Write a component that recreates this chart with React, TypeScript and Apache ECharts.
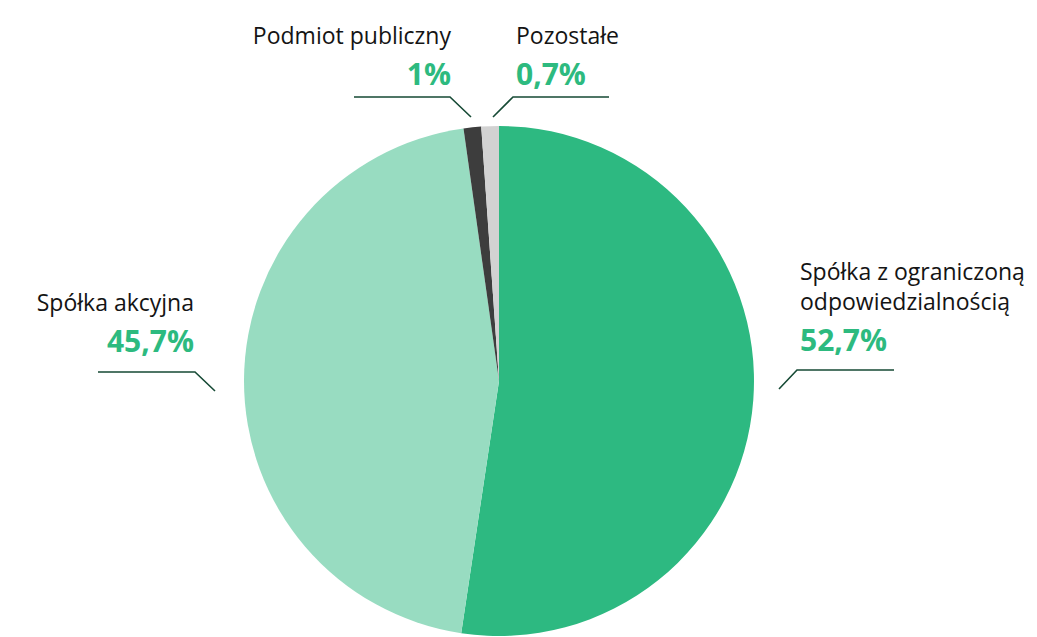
import React, { useEffect, useRef } from "react";
import * as echarts from "echarts";

const categories = [
  "Spółka z ograniczoną\nodpowiedzialnością",
  "Spółka akcyjna",
  "Podmiot publiczny",
  "Pozostałe",
];
const shares = [52.7, 45.7, 1, 0.7];
const valueLabels = ["52,7%", "45,7%", "1%", "0,7%"];
const colors = ["#2db981", "#98dcc1", "#3d3d3d", "#d2d2d2"];

// label placement (layout only)
const labelPlacement = [
  { x: 800, y: 256, align: "left", line: [[779, 389], [797, 370], [894, 370]] },
  { x: 194, y: 287, align: "right", line: [[215, 391], [195, 372], [98, 372]] },
  { x: 451, y: 20, align: "right", line: [[471, 117], [450, 97], [354, 97]] },
  { x: 516, y: 20, align: "left", line: [[493, 117], [513, 97], [609, 97]] },
];

export default function App() {
  const ref = useRef<HTMLDivElement>(null);
  useEffect(() => {
    document.body.style.margin = "0";
    const chart = echarts.init(ref.current!, null, { renderer: "svg" });
    chart.setOption({
      animation: false,
      backgroundColor: "#ffffff",
      series: [
        {
          type: "pie",
          center: [499, 381],
          radius: 255,
          startAngle: 90,
          clockwise: true,
          minAngle: 4,
          avoidLabelOverlap: false,
          data: categories.map((name, i) => ({
            name,
            value: shares[i],
            itemStyle: { color: colors[i] },
          })),
          label: {
            show: true,
            formatter: (p: any) =>
              `{n|${p.name}}\n{v|${valueLabels[p.dataIndex]}}`,
            rich: {
              n: {
                fontFamily: "Open Sans",
                fontSize: 23,
                lineHeight: 30,
                color: "#141414",
              },
              v: {
                fontFamily: "Open Sans",
                fontSize: 30,
                fontWeight: "bold",
                lineHeight: 46,
                color: "#2dba7f",
              },
            },
          },
          labelLine: {
            show: true,
            lineStyle: { color: "#164a35", width: 1.6 },
          },
          labelLayout: (params: any) => {
            const p = labelPlacement[params.dataIndex];
            return {
              x: p.x,
              y: p.y,
              align: p.align,
              verticalAlign: "top",
              labelLinePoints: p.line,
            };
          },
        },
      ],
    });
    return () => chart.dispose();
  }, []);
  return <div ref={ref} style={{ width: 1037, height: 637 }} />;
}
